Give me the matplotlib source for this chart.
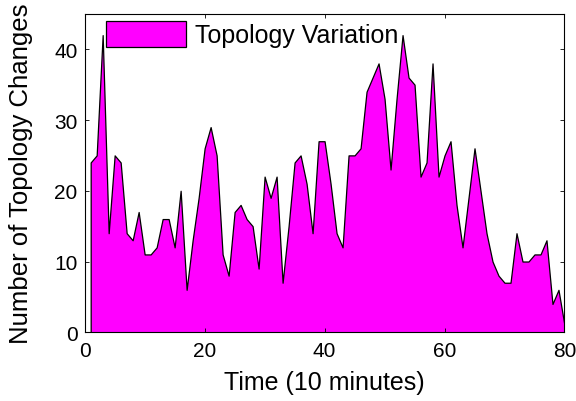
import matplotlib
matplotlib.use("Agg")
import matplotlib.pyplot as plt
import numpy as np

# data (time step 1..81)
time_steps = list(range(1, 82))
topology_changes = [
    24, 25, 42, 14, 25, 24, 14, 13, 17, 11,
    11, 12, 16, 16, 12, 20, 6, 13, 19, 26,
    29, 25, 11, 8, 17, 18, 16, 15, 9, 22,
    19, 22, 7, 15, 24, 25, 21, 14, 27, 27,
    21, 14, 12, 25, 25, 26, 34, 36, 38, 33,
    23, 33, 42, 36, 35, 22, 24, 38, 22, 25,
    27, 18, 12, 19, 26, 20, 14, 10, 8, 7,
    7, 14, 10, 10, 11, 11, 13, 4, 6, 1,
    6,
]
x_ticks = [0, 20, 40, 60, 80]
y_ticks = [0, 10, 20, 30, 40]

plt.rcParams["font.family"] = ["Liberation Sans", "DejaVu Sans"]

fig = plt.figure(figsize=(5.76, 4.02), dpi=100)
ax = fig.add_axes([0.147, 0.171, 0.833, 0.792])

ax.fill_between(time_steps, topology_changes, 0,
                facecolor="#FF00FF", edgecolor="black",
                linewidth=0.9, label="Topology Variation")

ax.set_xlim(0, 80)
ax.set_ylim(0, 45)
ax.set_xticks(x_ticks)
ax.set_yticks(y_ticks)

ax.tick_params(direction="in", length=3, width=0.6, top=True, right=True,
               labelsize=15)
ax.tick_params(axis="x", pad=6)
ax.tick_params(axis="y", pad=5)
for sp in ax.spines.values():
    sp.set_linewidth(0.8)

ax.set_xlabel("Time (10 minutes)", fontsize=18)
ax.set_ylabel("Number of Topology Changes", fontsize=18.5)
ax.xaxis.set_label_coords(0.5, -0.118)
ax.yaxis.set_label_coords(-0.108, 0.5)

ax.legend(loc="upper left", bbox_to_anchor=(0.044, 0.977), frameon=False,
          fontsize=18, borderpad=0, borderaxespad=0,
          handlelength=3.2, handleheight=1.2, handletextpad=0.38)

fig.savefig("out.png", dpi=100)
